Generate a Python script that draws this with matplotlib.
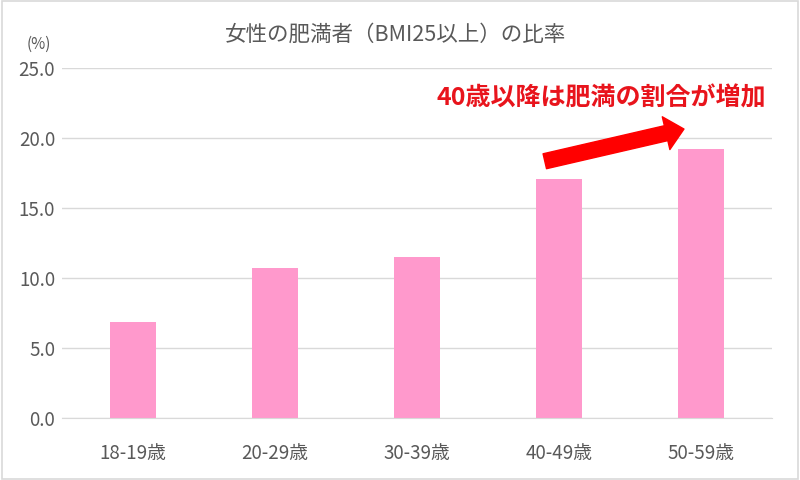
import matplotlib
matplotlib.use("Agg")
import matplotlib.pyplot as plt
from matplotlib.patches import FancyArrowPatch, Rectangle

plt.rcParams['font.family'] = ['Noto Sans CJK JP', 'DejaVu Sans']

categories = ["18-19歳", "20-29歳", "30-39歳", "40-49歳", "50-59歳"]
values = [6.9, 10.7, 11.5, 17.1, 19.2]
yticks = [0, 5, 10, 15, 20, 25]
title = "女性の肥満者（BMI25以上）の比率"
note = "40歳以降は肥満の割合が増加"

fig = plt.figure(figsize=(8, 4.8), dpi=100)
ax = fig.add_axes([0.0775, 0.129, 0.8875, 0.729])

x = list(range(len(categories)))
ax.bar(x, values, width=0.32, color="#FF99CC", zorder=2)
ax.set_xlim(-0.5, len(categories) - 0.5)
ax.set_ylim(0, 25)
ax.set_yticks(yticks)
ax.set_yticklabels([f"{v:.1f}" for v in yticks])
ax.set_xticks(x)
ax.set_xticklabels(categories)
ax.grid(axis="y", color="#D9D9D9", linewidth=1, zorder=0)
for s in ["top", "right", "left"]:
    ax.spines[s].set_visible(False)
ax.spines["bottom"].set_color("#D9D9D9")
ax.tick_params(axis="both", length=0, colors="#595959")
ax.tick_params(axis="x", pad=18, labelsize=13.5)
ax.tick_params(axis="y", pad=5, labelsize=13.5)

fig.text(0.495, 0.928, title, ha="center", va="center", fontsize=15.5, color="#595959")
fig.text(0.048, 0.908, "(%)", ha="center", va="center", fontsize=11, color="#595959")

ax.text(3.30, 22.85, note, ha="center", va="center", fontsize=18,
        fontweight="bold", color="#E8141C")

arrow = FancyArrowPatch((2.90, 18.35), (3.88, 20.65),
                        arrowstyle="simple,head_width=1.1,head_length=0.6,tail_width=0.5",
                        mutation_scale=22, color="#FF0000", zorder=3, shrinkA=0, shrinkB=0)
ax.add_patch(arrow)

fig.patches.append(Rectangle((0.002, 0.002), 0.996, 0.996, transform=fig.transFigure,
                             fill=False, edgecolor="#D9D9D9", linewidth=1.2))

fig.savefig("out.png", dpi=100)
